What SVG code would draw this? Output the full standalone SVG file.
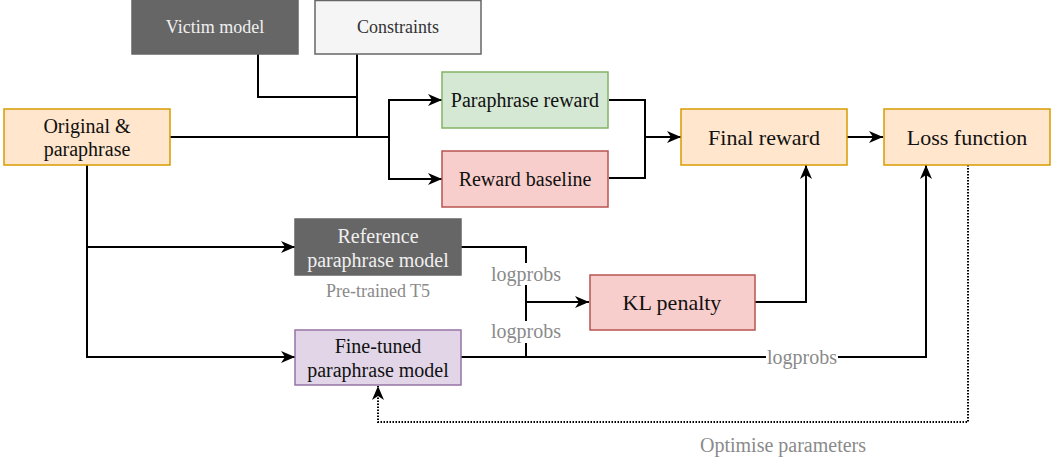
<svg xmlns="http://www.w3.org/2000/svg" width="1061" height="466" viewBox="0 0 1061 466">
<style>
  text { font-family: "Liberation Serif", "Times New Roman", serif; text-anchor: middle; }
  .n20 { font-size: 20px; fill: #111; }
  .n22 { font-size: 22px; fill: #111; }
  .n18 { font-size: 18px; }
  .lbl { font-size: 20px; fill: #8a8a8a; }
  .sub { font-size: 18px; fill: #8a8a8a; }
  .orange { fill: #ffe6cc; stroke: #d79b00; stroke-width: 1.5; }
  .green { fill: #d5e8d4; stroke: #82b366; stroke-width: 1.5; }
  .red { fill: #f8cecc; stroke: #b85450; stroke-width: 1.5; }
  .purple { fill: #e1d5e7; stroke: #9673a6; stroke-width: 1.5; }
  .dark { fill: #666666; stroke: #666666; stroke-width: 1.5; }
  .light { fill: #f5f5f5; stroke: #666666; stroke-width: 1.5; }
  .edge { fill: none; stroke: #000; stroke-width: 2; }
  .dotted { fill: none; stroke: #000; stroke-width: 2; stroke-dasharray: 1.5 1.5; }
  .lblbg { fill: #fff; }
</style>
<defs>
  <marker id="arr" viewBox="0 0 14 12" refX="14" refY="6" markerWidth="14" markerHeight="12" markerUnits="userSpaceOnUse" orient="auto">
    <path d="M0,0 L14,6 L0,12 L4,6 Z" fill="#000"/>
  </marker>
</defs>

<g id="connectors">
  <path class="edge" d="M170,137 H389 V100 H442" marker-end="url(#arr)"/>
  <path class="edge" d="M389,137 V179 H442" marker-end="url(#arr)"/>
  <path class="edge" d="M258,54 V97 H357"/>
  <path class="edge" d="M357,54 V137"/>
  <path class="edge" d="M87,165 V357 H295" marker-end="url(#arr)"/>
  <path class="edge" d="M87,247 H295" marker-end="url(#arr)"/>
  <path class="edge" d="M609,100 H645 V137 H681" marker-end="url(#arr)"/>
  <path class="edge" d="M609,178 H645 V137"/>
  <path class="edge" d="M847,137 H883" marker-end="url(#arr)"/>
  <path class="edge" d="M461,247 H526 V357"/>
  <path class="edge" d="M526,302 H589" marker-end="url(#arr)"/>
  <path class="edge" d="M461,357 H926 V165" marker-end="url(#arr)"/>
  <path class="edge" d="M755,302 H806 V165" marker-end="url(#arr)"/>
  <path class="dotted" d="M968,165 V422 H378 V386" marker-end="url(#arr)"/>
  <rect class="lblbg" x="490" y="263" width="72" height="22"/>
  <text class="lbl" x="526" y="281">logprobs</text>
  <rect class="lblbg" x="490" y="321" width="72" height="22"/>
  <text class="lbl" x="526" y="338">logprobs</text>
  <rect class="lblbg" x="766" y="347" width="72" height="22"/>
  <text class="lbl" x="802" y="364">logprobs</text>
  <text class="lbl" x="783" y="452">Optimise parameters</text>
</g>

<g id="victim">
  <rect class="dark" x="132" y="-1" width="166" height="55"/>
  <text class="n18" x="215" y="33" fill="#f0f0f0">Victim model</text>
</g>
<g id="constraints">
  <rect class="light" x="315" y="0.5" width="166" height="53.5"/>
  <text class="n18" x="398" y="33" fill="#333333">Constraints</text>
</g>
<g id="original">
  <rect class="orange" x="4" y="109" width="166" height="56"/>
  <text class="n20" x="87" y="133">Original &amp;</text>
  <text class="n20" x="87" y="156">paraphrase</text>
</g>
<g id="paraphrase-reward">
  <rect class="green" x="442" y="72" width="166" height="56"/>
  <text class="n20" x="525" y="107">Paraphrase reward</text>
</g>
<g id="reward-baseline">
  <rect class="red" x="442" y="151" width="166" height="56"/>
  <text class="n20" x="525" y="186">Reward baseline</text>
</g>
<g id="final-reward">
  <rect class="orange" x="681" y="109" width="166" height="56"/>
  <text class="n22" x="764" y="145">Final reward</text>
</g>
<g id="loss-function">
  <rect class="orange" x="884" y="109" width="166" height="56"/>
  <text class="n22" x="967" y="145">Loss function</text>
</g>
<g id="reference-model">
  <rect class="dark" x="295" y="219" width="166" height="56"/>
  <text class="n20" x="378" y="243" style="fill:#f0f0f0">Reference</text>
  <text class="n20" x="378" y="267" style="fill:#f0f0f0">paraphrase model</text>
  <text class="sub" x="378" y="297">Pre-trained T5</text>
</g>
<g id="kl-penalty">
  <rect class="red" x="590" y="275" width="165" height="55"/>
  <text class="n22" x="672" y="310">KL penalty</text>
</g>
<g id="fine-tuned-model">
  <rect class="purple" x="295" y="330" width="166" height="55"/>
  <text class="n20" x="378" y="353">Fine-tuned</text>
  <text class="n20" x="378" y="377">paraphrase model</text>
</g>
</svg>
